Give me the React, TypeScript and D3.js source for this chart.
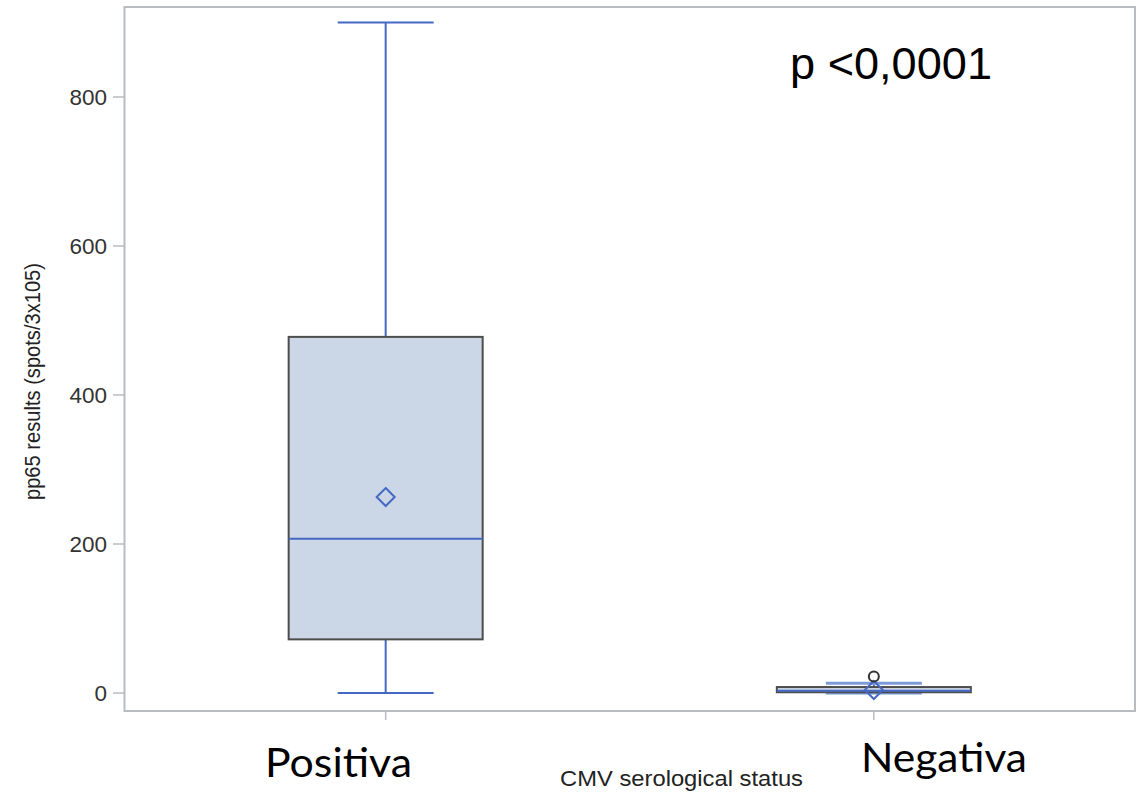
import React from "react";
import * as d3 from "d3";

const categories = ["Positiva", "Negativa"];
const whiskerLow = [0, 0];
const q1 = [72, 1];
const median = [207, 3];
const q3 = [478, 8];
const whiskerHigh = [900, 13];
const means = [263, 4];
const outliers: number[][] = [[], [22]];
const yTicks = [0, 200, 400, 600, 800];

const W = 1145;
const H = 792;
const left = 124.5;
const right = 1135;
const top = 7;
const bottom = 711;

export default function App() {
  const x = d3.scalePoint<string>().domain(categories).range([left, right]).padding(0.535);
  const y = d3.scaleLinear().domain([0, 800]).range([693, 97]);
  const boxHalf = 97;
  const capHalf = 48;
  const blue = "#4569c2";
  const gray = "#b8bcc0";

  return (
    <svg width={W} height={H} style={{ position: "absolute", left: 0, top: 0 }}>
      <rect x={0} y={0} width={W} height={H} fill="#fff" />
      <rect x={left} y={top} width={right - left} height={bottom - top} fill="none" stroke={gray} strokeWidth={2} />
      {yTicks.map((t) => (
        <g key={t}>
          <line x1={113} x2={left} y1={y(t)} y2={y(t)} stroke={gray} strokeWidth={1.5} />
          <text x={107} y={y(t)} dy="0.36em" textAnchor="end" fontFamily="Liberation Sans, Arial, sans-serif" fontSize={22.5} fill="#333">
            {t}
          </text>
        </g>
      ))}
      {categories.map((c) => (
        <line key={c} x1={x(c)} x2={x(c)} y1={bottom} y2={bottom + 9} stroke={gray} strokeWidth={1.5} />
      ))}
      {categories.map((c, i) => {
        const cx = x(c) as number;
        const capColor = i === 0 ? blue : "#7c9ad8";
        const capW = i === 0 ? 2 : 3;
        return (
          <g key={c}>
            <line x1={cx} x2={cx} y1={y(q3[i])} y2={y(whiskerHigh[i])} stroke={blue} strokeWidth={2} />
            <line x1={cx} x2={cx} y1={y(q1[i])} y2={y(whiskerLow[i])} stroke={blue} strokeWidth={2} />
            <line x1={cx - capHalf} x2={cx + capHalf} y1={y(whiskerHigh[i])} y2={y(whiskerHigh[i])} stroke={capColor} strokeWidth={capW} />
            <line x1={cx - capHalf} x2={cx + capHalf} y1={y(whiskerLow[i])} y2={y(whiskerLow[i])} stroke={capColor} strokeWidth={capW} />
            <rect x={cx - boxHalf} y={y(q3[i])} width={boxHalf * 2} height={y(q1[i]) - y(q3[i])} fill="#cbd6e6" stroke="#4d4d4d" strokeWidth={2} />
            <line x1={cx - boxHalf} x2={cx + boxHalf} y1={y(median[i])} y2={y(median[i])} stroke={blue} strokeWidth={2} />
            <path
              d={`M${cx},${y(means[i]) - 9} L${cx + 9},${y(means[i])} L${cx},${y(means[i]) + 9} L${cx - 9},${y(means[i])} Z`}
              fill="none"
              stroke={blue}
              strokeWidth={2}
            />
            {outliers[i].map((o, j) => (
              <circle key={j} cx={cx} cy={y(o)} r={5} fill="none" stroke="#333" strokeWidth={2} />
            ))}
          </g>
        );
      })}
      <text x={265} y={777} fontFamily="Lato, Calibri, sans-serif" fontSize={40} textLength={147} lengthAdjust="spacingAndGlyphs" fill="#000">
        {categories[0]}
      </text>
      <text x={861} y={772} fontFamily="Lato, Calibri, sans-serif" fontSize={40} textLength={166} lengthAdjust="spacingAndGlyphs" fill="#000">
        {categories[1]}
      </text>
      <text x={560} y={786} fontFamily="Liberation Sans, Arial, sans-serif" fontSize={22} textLength={243} lengthAdjust="spacingAndGlyphs" fill="#222">
        CMV serological status
      </text>
      <text
        transform={`translate(40,${(263 + 500) / 2}) rotate(-90)`}
        textAnchor="middle"
        fontFamily="Liberation Sans, Arial, sans-serif"
        fontSize={22}
        textLength={237}
        lengthAdjust="spacingAndGlyphs"
        fill="#222"
      >
        pp65 results (spots/3x105)
      </text>
      <text x={790} y={79} fontFamily="Liberation Sans, Arial, sans-serif" fontSize={44} textLength={202} lengthAdjust="spacingAndGlyphs" fill="#000">
        p &lt;0,0001
      </text>
    </svg>
  );
}
